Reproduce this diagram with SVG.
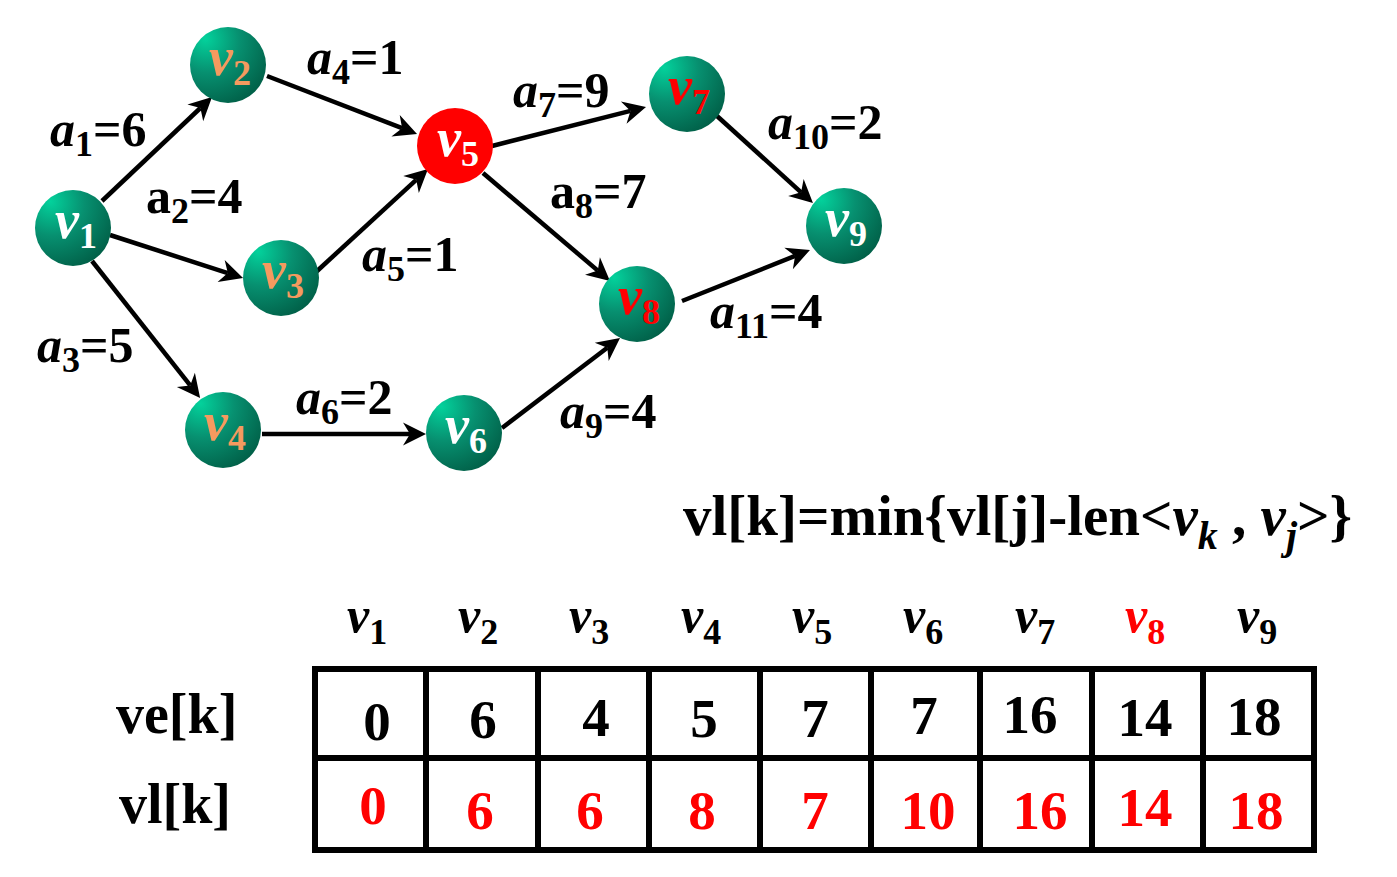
<svg xmlns="http://www.w3.org/2000/svg" width="1397" height="877" viewBox="0 0 1397 877">
<style>
text{font-family:"Liberation Serif","Times New Roman",serif;font-weight:bold}
.it{font-style:italic}
.lbl{font-size:50px;fill:#000}
.sub{font-size:36px}
.nl{font-size:54px}
.ns{font-size:36px;font-style:normal}
.w{fill:#fff}
.o{fill:#f59a5f}
.r{fill:#ff0000}
.edge{stroke:#000;stroke-width:4.5;fill:none;marker-end:url(#ah)}
.cell{font-size:55px;text-anchor:middle}
.hdr{font-size:50px}
.grid{stroke:#000;stroke-width:6;fill:none}
</style>
<defs>
<radialGradient id="g" cx="0.25" cy="0.2" r="0.95" fx="0.2" fy="0.15">
<stop offset="0" stop-color="#03d29c"/>
<stop offset="0.45" stop-color="#079070"/>
<stop offset="1" stop-color="#005a43"/>
</radialGradient>
<marker id="ah" markerUnits="userSpaceOnUse" markerWidth="24" markerHeight="24" viewBox="0 -12 24 24" refX="7" refY="0" orient="auto" overflow="visible">
<path d="M0,-11.5 L23,0 L0,11.5 L7,0 Z" fill="#000"/>
</marker>
</defs>
<rect width="1397" height="877" fill="#fff"/>
<g id="connectors">
<line class="edge" x1="102" y1="201" x2="200.4" y2="108"/>
<line class="edge" x1="110" y1="235" x2="227.8" y2="273.1"/>
<line class="edge" x1="92" y1="261" x2="190.2" y2="385.4"/>
<line class="edge" x1="267" y1="76" x2="402.1" y2="128.2"/>
<line class="edge" x1="316" y1="272" x2="416.2" y2="179.8"/>
<line class="edge" x1="262" y1="434" x2="410" y2="434"/>
<line class="edge" x1="502" y1="428" x2="607.3" y2="347.7"/>
<line class="edge" x1="492" y1="146" x2="630.5" y2="110.9"/>
<line class="edge" x1="483" y1="173" x2="597.8" y2="270.6"/>
<line class="edge" x1="717" y1="116" x2="801.1" y2="192.3"/>
<line class="edge" x1="682" y1="301" x2="795.1" y2="255.9"/>
</g>
<g id="edge-labels">
<text class="lbl" x="50" y="146"><tspan class="it">a</tspan><tspan class="sub" dy="10">1</tspan><tspan dy="-10">=6</tspan></text>
<text class="lbl" x="146" y="213">a<tspan class="sub" dy="10">2</tspan><tspan dy="-10">=4</tspan></text>
<text class="lbl" x="37" y="362"><tspan class="it">a</tspan><tspan class="sub" dy="10">3</tspan><tspan dy="-10">=5</tspan></text>
<text class="lbl" x="307" y="74"><tspan class="it">a</tspan><tspan class="sub" dy="10">4</tspan><tspan dy="-10">=1</tspan></text>
<text class="lbl" x="362" y="271"><tspan class="it">a</tspan><tspan class="sub" dy="10">5</tspan><tspan dy="-10">=1</tspan></text>
<text class="lbl" x="296" y="414"><tspan class="it">a</tspan><tspan class="sub" dy="10">6</tspan><tspan dy="-10">=2</tspan></text>
<text class="lbl" x="513" y="107"><tspan class="it">a</tspan><tspan class="sub" dy="10">7</tspan><tspan dy="-10">=9</tspan></text>
<text class="lbl" x="550" y="208">a<tspan class="sub" dy="10">8</tspan><tspan dy="-10">=7</tspan></text>
<text class="lbl" x="560" y="428"><tspan class="it">a</tspan><tspan class="sub" dy="10">9</tspan><tspan dy="-10">=4</tspan></text>
<text class="lbl" x="768" y="139"><tspan class="it">a</tspan><tspan class="sub" dy="10">10</tspan><tspan dy="-10">=2</tspan></text>
<text class="lbl" x="710" y="328"><tspan class="it">a</tspan><tspan class="sub" dy="10">11</tspan><tspan dy="-10">=4</tspan></text>
</g>
<g id="v1"><circle cx="73" cy="228" r="38" fill="url(#g)"/><text class="nl it w" x="55" y="238">v<tspan class="ns" dy="10">1</tspan></text></g>
<g id="v2"><circle cx="228" cy="65" r="38" fill="url(#g)"/><text class="nl it o" x="209" y="75">v<tspan class="ns" dy="10">2</tspan></text></g>
<g id="v3"><circle cx="281" cy="278" r="38" fill="url(#g)"/><text class="nl it o" x="262" y="288">v<tspan class="ns" dy="10">3</tspan></text></g>
<g id="v4"><circle cx="223" cy="430" r="38" fill="url(#g)"/><text class="nl it o" x="204" y="440">v<tspan class="ns" dy="10">4</tspan></text></g>
<g id="v5"><circle cx="455" cy="146" r="38" fill="#ff0000"/><text class="nl it w" x="437" y="156">v<tspan class="ns" dy="10">5</tspan></text></g>
<g id="v6"><circle cx="464" cy="433" r="38" fill="url(#g)"/><text class="nl it w" x="445" y="443">v<tspan class="ns" dy="10">6</tspan></text></g>
<g id="v7"><circle cx="687" cy="94" r="38" fill="url(#g)"/><text class="nl it r" x="668" y="104">v<tspan class="ns" dy="10">7</tspan></text></g>
<g id="v8"><circle cx="637" cy="304" r="38" fill="url(#g)"/><text class="nl it r" x="618" y="314">v<tspan class="ns" dy="10">8</tspan></text></g>
<g id="v9"><circle cx="844" cy="226" r="38" fill="url(#g)"/><text class="nl it w" x="825" y="236">v<tspan class="ns" dy="10">9</tspan></text></g>
<g id="formula">
<text x="683" y="535" font-size="57">vl[k]=min{vl[j]-len&lt;<tspan class="it">v</tspan><tspan class="it" font-size="40" dy="14">k</tspan><tspan dy="-14"> , </tspan><tspan class="it">v</tspan><tspan class="it" font-size="40" dy="14">j</tspan><tspan dy="-14">&gt;}</tspan></text>
</g>
<g id="table">
<rect class="grid" x="315" y="669" width="999" height="181"/>
<line class="grid" x1="315" y1="758" x2="1314" y2="758"/>
<line class="grid" x1="426" y1="669" x2="426" y2="850"/>
<line class="grid" x1="538" y1="669" x2="538" y2="850"/>
<line class="grid" x1="649" y1="669" x2="649" y2="850"/>
<line class="grid" x1="760" y1="669" x2="760" y2="850"/>
<line class="grid" x1="871" y1="669" x2="871" y2="850"/>
<line class="grid" x1="980" y1="669" x2="980" y2="850"/>
<line class="grid" x1="1092" y1="669" x2="1092" y2="850"/>
<line class="grid" x1="1203" y1="669" x2="1203" y2="850"/>
<text x="116" y="733" font-size="56">ve[k]</text>
<text x="119" y="823" font-size="56">vl[k]</text>
<g>
<text class="hdr it" x="347" y="632">v<tspan class="ns" dy="12">1</tspan></text>
<text class="hdr it" x="458" y="632">v<tspan class="ns" dy="12">2</tspan></text>
<text class="hdr it" x="569" y="632">v<tspan class="ns" dy="12">3</tspan></text>
<text class="hdr it" x="681" y="632">v<tspan class="ns" dy="12">4</tspan></text>
<text class="hdr it" x="792" y="632">v<tspan class="ns" dy="12">5</tspan></text>
<text class="hdr it" x="903" y="632">v<tspan class="ns" dy="12">6</tspan></text>
<text class="hdr it" x="1015" y="632">v<tspan class="ns" dy="12">7</tspan></text>
<text class="hdr it r" x="1125" y="632">v<tspan class="ns" dy="12">8</tspan></text>
<text class="hdr it" x="1237" y="632">v<tspan class="ns" dy="12">9</tspan></text>
</g>
<text class="cell" x="377" y="740">0</text>
<text class="cell" x="483" y="738">6</text>
<text class="cell" x="596" y="736">4</text>
<text class="cell" x="704" y="737">5</text>
<text class="cell" x="815" y="737">7</text>
<text class="cell" x="924" y="734">7</text>
<text class="cell" x="1030" y="733">16</text>
<text class="cell" x="1145" y="736">14</text>
<text class="cell" x="1254" y="735">18</text>
<text class="cell r" x="373" y="824">0</text>
<text class="cell r" x="480" y="829">6</text>
<text class="cell r" x="590" y="829">6</text>
<text class="cell r" x="702" y="829">8</text>
<text class="cell r" x="815" y="829">7</text>
<text class="cell r" x="928" y="829">10</text>
<text class="cell r" x="1040" y="829">16</text>
<text class="cell r" x="1145" y="826">14</text>
<text class="cell r" x="1256" y="829">18</text>
</g>
</svg>
